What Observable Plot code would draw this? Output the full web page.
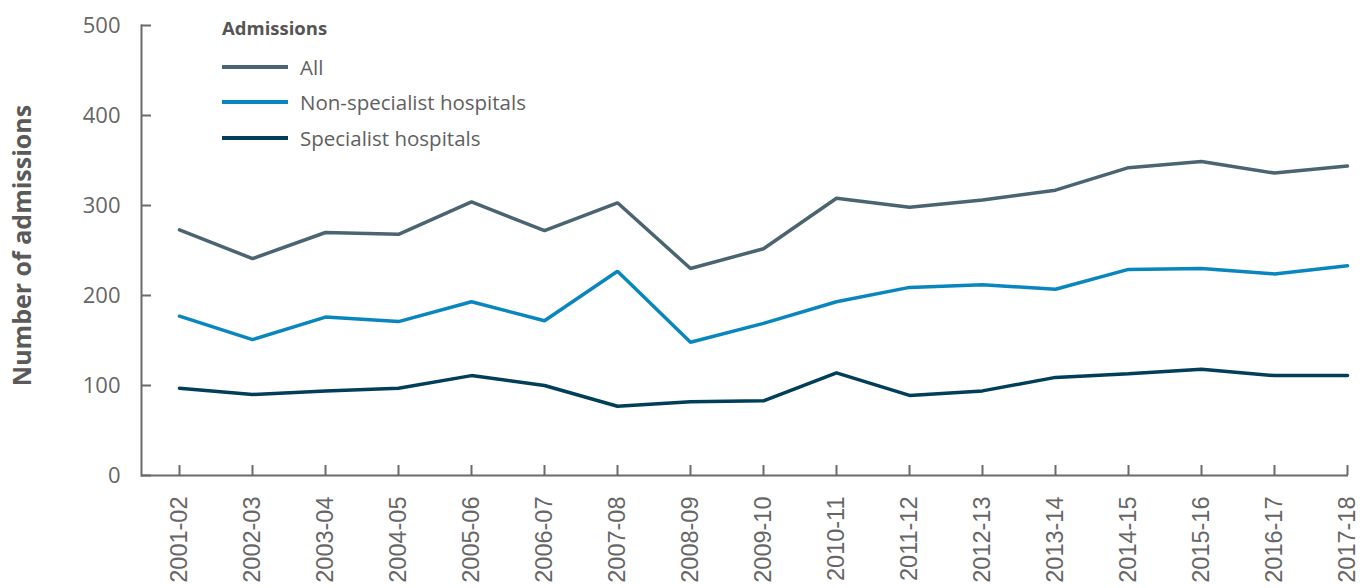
<!DOCTYPE html>
<html>
<head>
<meta charset="utf-8">
<script src="https://cdn.jsdelivr.net/npm/d3@7"></script>
<script src="https://cdn.jsdelivr.net/npm/@observablehq/plot@0.6"></script>
<style>
  html, body { margin: 0; padding: 0; background: #fff; }
  #wrap { position: relative; width: 1371px; height: 588px; overflow: hidden; }
  #legend { position: absolute; left: 222px; top: 15px; font-family: "Open Sans", sans-serif; color: #606060; }
  #legend .title { font-weight: bold; font-size: 18.5px; color: #555; margin-bottom: 9px; }
  #legend .item { display: flex; align-items: center; height: 35.5px; font-size: 20.5px; }
  #legend .sw { width: 66px; height: 4px; margin-right: 12px; }
</style>
</head>
<body>
<div id="wrap"></div>
<script>
const years = ["2001-02","2002-03","2003-04","2004-05","2005-06","2006-07","2007-08","2008-09","2009-10","2010-11","2011-12","2012-13","2013-14","2014-15","2015-16","2016-17","2017-18"];
const allAdmissions = [273,241,270,268,304,272,303,230,252,308,298,306,317,342,349,336,344];
const nonSpecialist = [177,151,176,171,193,172,227,148,169,193,209,212,207,229,230,224,233];
const specialist = [97,90,94,97,111,100,77,82,83,114,89,94,109,113,118,111,111];
const seriesNames = ["All","Non-specialist hospitals","Specialist hospitals"];
const seriesColors = ["#4b6471","#0a86bf","#003e5a"];
const yTicks = [0,100,200,300,400,500];

const seriesValues = [allAdmissions, nonSpecialist, specialist];
const data = [];
seriesNames.forEach((s, i) => years.forEach((yr, j) => data.push({series: s, year: yr, value: seriesValues[i][j]})));

const W = 1371, H = 588, ML = 141, MR = 23;
const chart = Plot.plot({
  width: W, height: H,
  marginLeft: ML, marginRight: MR, marginTop: 25, marginBottom: 113,
  style: {fontFamily: "'Open Sans', sans-serif", background: "#fff", color: "#666"},
  x: {type: "point", domain: years, range: [177, W - MR], padding: 0},
  y: {domain: [0, 500], ticks: yTicks},
  color: {domain: seriesNames, range: seriesColors},
  marks: [
    Plot.frame({anchor: "left", stroke: "#6b6b6b", strokeWidth: 2}),
    Plot.axisY({ticks: yTicks, tickSize: -10, tickFormat: () => "", label: null, stroke: "#6b6b6b", strokeWidth: 2}),
    Plot.axisY({ticks: yTicks, tickSize: 0, tickPadding: 21, fontSize: 22, fill: "#666", label: null}),
    Plot.axisX({tickSize: -10, tickFormat: () => "", label: null, stroke: "#6b6b6b", strokeWidth: 2}),
    Plot.axisX({tickSize: 0, tickPadding: 21, tickRotate: -90, fontSize: 23.5, fill: "#666", label: null, fontFamily: "'Liberation Sans', Arial, sans-serif"}),
    Plot.ruleY([0], {stroke: "#6b6b6b", strokeWidth: 2}),
    Plot.line(data, {x: "year", y: "value", z: "series", stroke: "series", strokeWidth: 3.5, strokeLinejoin: "miter"}),
    Plot.text(["Number of admissions"], {frameAnchor: "left", textAnchor: "middle", dx: -119, dy: -5, rotate: -90, fontSize: 25, fontWeight: "bold", fill: "#5a5a5a"})
  ]
});
const wrap = document.getElementById("wrap");
wrap.appendChild(chart);

const legend = document.createElement("div");
legend.id = "legend";
legend.innerHTML = `<div class="title">Admissions</div>` +
  seriesNames.map((s, i) => `<div class="item"><span class="sw" style="background:${seriesColors[i]}"></span>${s}</div>`).join("");
wrap.appendChild(legend);
</script>
</body>
</html>
